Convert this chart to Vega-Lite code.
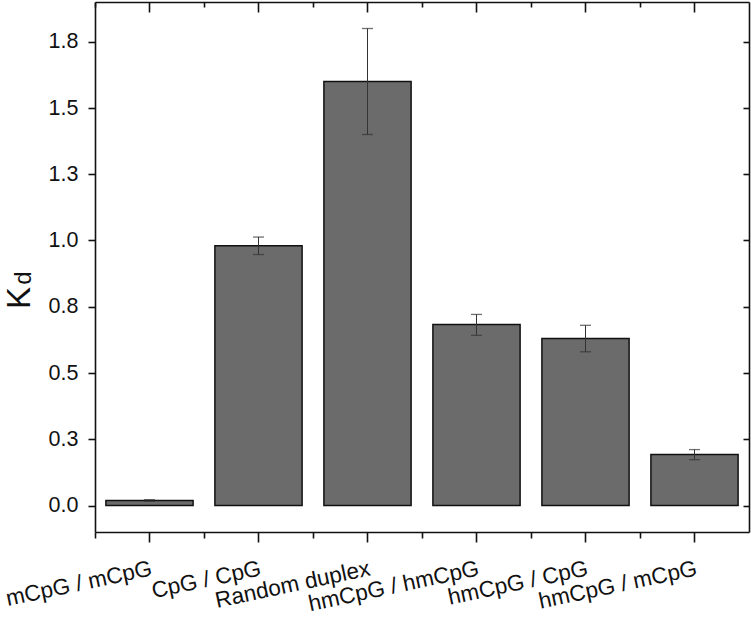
{
  "$schema": "https://vega.github.io/schema/vega-lite/v6.json",
  "width": 654,
  "height": 530,
  "autosize": "none",
  "padding": {"left": 95, "top": 2, "right": 2, "bottom": 86},
  "background": "white",
  "config": {
    "view": {"stroke": null},
    "font": "Liberation Sans",
    "axis": {
      "labelFont": "Liberation Sans",
      "titleFont": "Liberation Sans",
      "labelColor": "#111111",
      "titleColor": "#111111",
      "domainColor": "#111111",
      "tickColor": "#111111",
      "domainWidth": 1.6,
      "tickWidth": 1.6,
      "grid": false,
      "titleFontWeight": "normal"
    }
  },
  "data": {
    "values": [
      {"sample": "mCpG / mCpG", "kd": 0.019, "lo": 0.016, "hi": 0.022},
      {"sample": "CpG / CpG", "kd": 0.98, "lo": 0.947, "hi": 1.013},
      {"sample": "Random duplex", "kd": 1.6, "lo": 1.4, "hi": 1.8},
      {"sample": "hmCpG / hmCpG", "kd": 0.683, "lo": 0.642, "hi": 0.721},
      {"sample": "hmCpG / CpG", "kd": 0.63, "lo": 0.58, "hi": 0.68},
      {"sample": "hmCpG / mCpG", "kd": 0.192, "lo": 0.173, "hi": 0.211}
    ]
  },
  "resolve": {"axis": {"x": "independent", "y": "independent"}},
  "layer": [
    {
      "mark": {"type": "bar", "color": "#6b6b6b", "stroke": "#111111", "strokeWidth": 1.5},
      "encoding": {
        "x": {
          "field": "sample", "type": "nominal", "sort": null,
          "scale": {"paddingInner": 0.2, "paddingOuter": 0.1},
          "axis": {
            "orient": "bottom", "title": null, "labelAngle": -12,
            "labelAlign": "right", "labelBaseline": "top",
            "labelFontSize": 22.5, "labelPadding": 15, "tickSize": 10,
            "labelOverlap": false, "labelBound": false, "labelFlush": false
          }
        },
        "y": {
          "field": "kd", "type": "quantitative",
          "scale": {"domain": [-0.1, 1.9], "nice": false, "zero": false},
          "axis": {
            "orient": "left", "values": [0, 0.25, 0.5, 0.75, 1, 1.25, 1.5, 1.75],
            "format": ".1f", "labelFontSize": 21.5, "tickSize": 7, "labelPadding": 10,
            "title": "K", "titleFontSize": 33, "titleAngle": -90,
            "titleAlign": "center", "titleBaseline": "alphabetic",
            "titleX": -66, "titleY": 295.5
          }
        }
      }
    },
    {
      "mark": {"type": "rule", "color": "#333333", "strokeWidth": 1},
      "encoding": {
        "x": {
          "field": "sample", "type": "nominal", "sort": null,
          "axis": {"orient": "top", "title": null, "labels": false, "tickSize": -10}
        },
        "y": {
          "field": "lo", "type": "quantitative",
          "axis": {
            "orient": "right", "title": null, "labels": false, "tickSize": -6,
            "values": [0, 0.25, 0.5, 0.75, 1, 1.25, 1.5, 1.75]
          }
        },
        "y2": {"field": "hi"}
      }
    },
    {
      "mark": {"type": "tick", "color": "#333333", "size": 11, "thickness": 1.3},
      "encoding": {
        "x": {
          "field": "sample", "type": "nominal", "sort": null,
          "axis": {
            "orient": "bottom", "title": null, "labels": false, "domain": false,
            "tickSize": 6, "bandPosition": -0.125
          }
        },
        "y": {
          "field": "lo", "type": "quantitative",
          "axis": {
            "orient": "left", "labels": false, "ticks": false, "domain": false,
            "title": "d", "titleFontSize": 24, "titleAngle": -90,
            "titleAlign": "center", "titleBaseline": "alphabetic",
            "titleX": -65, "titleY": 275.5
          }
        }
      }
    },
    {
      "mark": {"type": "tick", "color": "#333333", "size": 11, "thickness": 1.3},
      "encoding": {
        "x": {
          "field": "sample", "type": "nominal", "sort": null,
          "axis": {
            "orient": "top", "title": null, "labels": false, "domain": false,
            "tickSize": -5, "bandPosition": -0.125
          }
        },
        "y": {"field": "hi", "type": "quantitative", "axis": null}
      }
    }
  ]
}
